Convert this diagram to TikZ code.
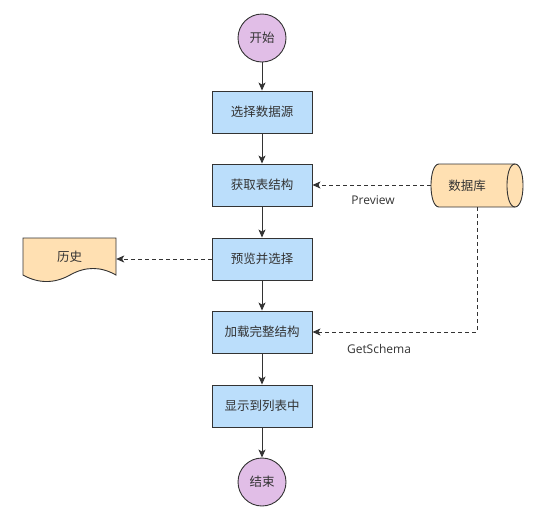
\documentclass[tikz,border=0pt]{standalone}
\usepackage{fontspec}
\setmainfont{Noto Sans CJK SC}
\newfontfamily\latinfont{Open Sans}
\usetikzlibrary{arrows.meta}
\definecolor{bluef}{HTML}{BBDEFB}
\definecolor{purpf}{HTML}{E1BEE7}
\definecolor{orangef}{HTML}{FFE0B2}
\definecolor{strokec}{HTML}{333333}
\begin{document}
\begin{tikzpicture}[x=1pt,y=-1pt,
  every node/.style={font=\fontsize{12.5}{14}\selectfont, text=strokec},
  stepbox/.style={draw=strokec, fill=bluef, line width=0.9pt, minimum width=100pt, minimum height=42pt, inner sep=0pt},
  term/.style={draw=strokec, fill=purpf, line width=0.9pt, circle, minimum size=48pt, inner sep=0pt},
  flow/.style={draw=strokec, line width=0.9pt, -{Stealth[length=8pt,width=7pt,inset=2pt]}},
  dflow/.style={flow, dash pattern=on 4pt off 3pt},
  shapeline/.style={draw=strokec, fill=orangef, line width=0.9pt},
  lbl/.style={font=\latinfont\fontsize{12}{14}\selectfont, text=strokec}]
\useasboundingbox (0,0) rectangle (546,523);
\node[term] (start) at (262,38) {开始};
\node[stepbox] (s1) at (262,112) {选择数据源};
\node[stepbox] (s2) at (262,185) {获取表结构};
\node[stepbox] (s3) at (262,259) {预览并选择};
\node[stepbox] (s4) at (262,332) {加载完整结构};
\node[stepbox] (s5) at (262,406) {显示到列表中};
\node[term] (stop) at (262,482) {结束};
% database cylinder (horizontal)
\draw[shapeline]
  (439,164) -- (515,164) .. controls (525.7,164) and (525.7,207) .. (515,207)
  -- (439,207) .. controls (428.3,207) and (428.3,164) .. (439,164) -- cycle;
\draw[draw=strokec, line width=0.9pt] (515,164) .. controls (504.3,164) and (504.3,207) .. (515,207);
\node[minimum width=92pt, minimum height=43pt, inner sep=0pt] (db) at (477,185.5) {};
\node (dbtext) at (467,185.5) {数据库};
% history document
\draw[shapeline]
  (23,238) -- (116,238) -- (116,275)
  .. controls (100.5,266.3) and (85.5,266.3) .. (70,275)
  .. controls (54.5,283.7) and (38.5,283.7) .. (23,275) -- cycle;
\node[minimum width=93pt, minimum height=37pt, inner sep=0pt] (hist) at (69.5,256.5) {历史};
% connectors
\draw[flow] (start) -- (s1);
\draw[flow] (s1) -- (s2);
\draw[flow] (s2) -- (s3);
\draw[flow] (s3) -- (s4);
\draw[flow] (s4) -- (s5);
\draw[flow] (s5) -- (stop);
\draw[dflow] (db.west |- s2.east) -- (s2.east);
\draw[dflow] (s3.west) -- (hist.east |- s3.west);
\draw[dflow] (db.south) |- (s4.east);
\node[lbl] (lprev) at (373,200) {Preview};
\node[lbl] (lget) at (379,349) {GetSchema};
\end{tikzpicture}
\end{document}
